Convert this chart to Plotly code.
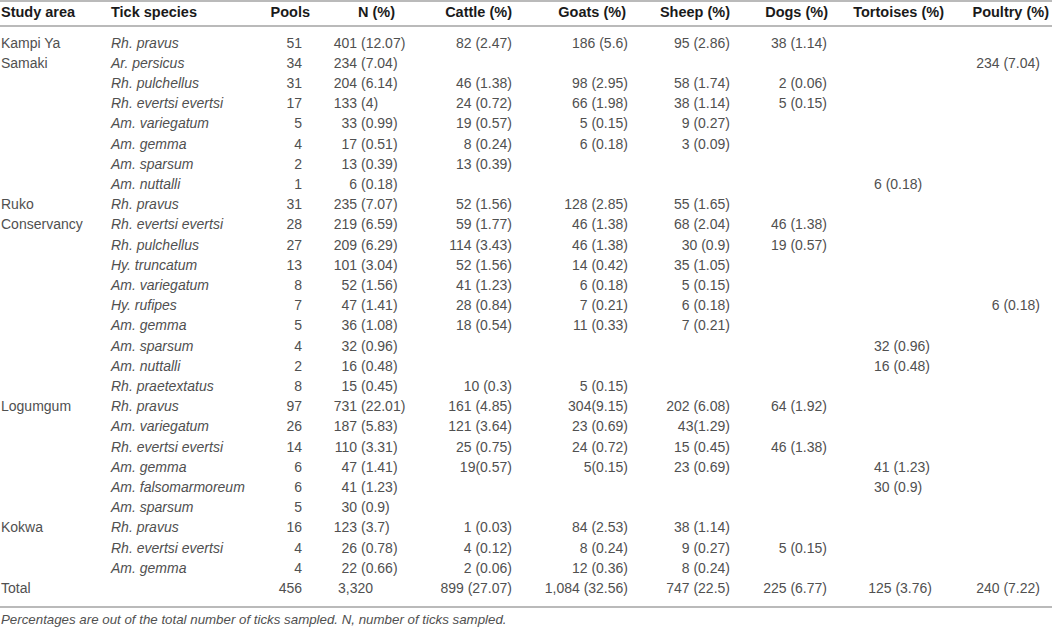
import plotly.graph_objects as go

# ---- table data -------------------------------------------------------
headers = ["Study area", "Tick species", "Pools", "N (%)", "Cattle (%)", "Goats (%)",
           "Sheep (%)", "Dogs (%)", "Tortoises (%)", "Poultry (%)"]

area_labels = ["Kampi Ya", "Samaki", "", "", "", "", "", "",
               "Ruko", "Conservancy", "", "", "", "", "", "", "", "",
               "Logumgum", "", "", "", "", "",
               "Kokwa", "", ""]

species = ["Rh. pravus", "Ar. persicus", "Rh. pulchellus", "Rh. evertsi evertsi",
           "Am. variegatum", "Am. gemma", "Am. sparsum", "Am. nuttalli",
           "Rh. pravus", "Rh. evertsi evertsi", "Rh. pulchellus", "Hy. truncatum",
           "Am. variegatum", "Hy. rufipes", "Am. gemma", "Am. sparsum", "Am. nuttalli",
           "Rh. praetextatus",
           "Rh. pravus", "Am. variegatum", "Rh. evertsi evertsi", "Am. gemma",
           "Am. falsomarmoreum", "Am. sparsum",
           "Rh. pravus", "Rh. evertsi evertsi", "Am. gemma"]

pools = ["51", "34", "31", "17", "5", "4", "2", "1",
         "31", "28", "27", "13", "8", "7", "5", "4", "2", "8",
         "97", "26", "14", "6", "6", "5",
         "16", "4", "4"]

# N (%) column: counts and their share, typeset aligned on the space between them
n_counts = ["401", "234", "204", "133", "33", "17", "13", "6",
            "235", "219", "209", "101", "52", "47", "36", "32", "16", "15",
            "731", "187", "110", "47", "41", "30",
            "123", "26", "22"]
n_shares = ["(12.07)", "(7.04)", "(6.14)", "(4)", "(0.99)", "(0.51)", "(0.39)", "(0.18)",
            "(7.07)", "(6.59)", "(6.29)", "(3.04)", "(1.56)", "(1.41)", "(1.08)", "(0.96)",
            "(0.48)", "(0.45)",
            "(22.01)", "(5.83)", "(3.31)", "(1.41)", "(1.23)", "(0.9)",
            "(3.7)", "(0.78)", "(0.66)"]

cattle = ["82 (2.47)", "", "46 (1.38)", "24 (0.72)", "19 (0.57)", "8 (0.24)", "13 (0.39)", "",
          "52 (1.56)", "59 (1.77)", "114 (3.43)", "52 (1.56)", "41 (1.23)", "28 (0.84)",
          "18 (0.54)", "", "", "10 (0.3)",
          "161 (4.85)", "121 (3.64)", "25 (0.75)", "19(0.57)", "", "",
          "1 (0.03)", "4 (0.12)", "2 (0.06)"]

goats = ["186 (5.6)", "", "98 (2.95)", "66 (1.98)", "5 (0.15)", "6 (0.18)", "", "",
         "128 (2.85)", "46 (1.38)", "46 (1.38)", "14 (0.42)", "6 (0.18)", "7 (0.21)",
         "11 (0.33)", "", "", "5 (0.15)",
         "304(9.15)", "23 (0.69)", "24 (0.72)", "5(0.15)", "", "",
         "84 (2.53)", "8 (0.24)", "12 (0.36)"]

sheep = ["95 (2.86)", "", "58 (1.74)", "38 (1.14)", "9 (0.27)", "3 (0.09)", "", "",
         "55 (1.65)", "68 (2.04)", "30 (0.9)", "35 (1.05)", "5 (0.15)", "6 (0.18)",
         "7 (0.21)", "", "", "",
         "202 (6.08)", "43(1.29)", "15 (0.45)", "23 (0.69)", "", "",
         "38 (1.14)", "9 (0.27)", "8 (0.24)"]

dogs = ["38 (1.14)", "", "2 (0.06)", "5 (0.15)", "", "", "", "",
        "", "46 (1.38)", "19 (0.57)", "", "", "", "", "", "", "",
        "64 (1.92)", "", "46 (1.38)", "", "", "",
        "", "5 (0.15)", ""]

tortoises = ["", "", "", "", "", "", "", "6 (0.18)",
             "", "", "", "", "", "", "", "32 (0.96)", "16 (0.48)", "",
             "", "", "", "41 (1.23)", "30 (0.9)", "",
             "", "", ""]

poultry = ["", "234 (7.04)", "", "", "", "", "", "",
           "", "", "", "", "", "6 (0.18)", "", "", "", "",
           "", "", "", "", "", "",
           "", "", ""]

# footer row
total_label = "Total"
totals = ["456", "3,320", "899 (27.07)", "1,084 (32.56)", "747 (22.5)", "225 (6.77)",
          "125 (3.76)", "240 (7.22)"]

footnote = "Percentages are out of the total number of ticks sampled. N, number of ticks sampled."

# ---- layout constants (pixels) ----------------------------------------
W, H = 1052, 629
ROW0, PITCH = 44, 20.2
HEADER_Y = 13
BODY = "#505050"
HEAD = "#1a1a1a"
LINE = "#a3a3a3"
FONT = "Liberation Sans"

# right-aligned value columns: (values, right edge x)
right_cols = [(pools, 302), (cattle, 512), (goats, 628), (sheep, 730), (dogs, 827),
              (poultry, 1040)]
N_SPLIT = 357        # N (%): counts end here, shares start just after
TORT_LEFT = 874      # tortoises column is set flush left
header_x = [1, 111, 310, 395, 512, 626, 730, 828, 944, 1049]
# footer cells: (x, alignment)
total_pos = [(302, "middle left"), (338, "middle right"), (512, "middle left"),
             (628, "middle left"), (730, "middle left"), (827, "middle left"),
             (932, "middle left"), (1040, "middle left")]

n = len(species)
rows_y = [ROW0 + i * PITCH for i in range(n)]
total_y = ROW0 + n * PITCH

fig = go.Figure()


def add_text(xs, ys, texts, pos, color=BODY, size=14, weight="normal", style="normal"):
    fig.add_trace(go.Scatter(
        x=xs, y=ys, text=texts, mode="text", textposition=pos,
        textfont=dict(family=FONT, size=size, color=color, weight=weight, style=style),
        hoverinfo="skip", showlegend=False, cliponaxis=False,
    ))


# headers
add_text(header_x[:2], [HEADER_Y] * 2, headers[:2], "middle right", HEAD, size=14.5, weight="bold")
add_text(header_x[2:], [HEADER_Y] * 8, headers[2:], "middle left", HEAD, size=14.5, weight="bold")

# body
add_text([1] * n, rows_y, area_labels, "middle right")
add_text([111] * n, rows_y, species, "middle right", style="italic")
add_text([N_SPLIT] * n, rows_y, n_counts, "middle left")
add_text([N_SPLIT + 4] * n, rows_y, n_shares, "middle right")
for col, x in right_cols:
    add_text([x] * n, rows_y, col, "middle left")
add_text([TORT_LEFT] * n, rows_y, tortoises, "middle right")

# footer row
add_text([1], [total_y], [total_label], "middle right")
for val, (x, pos) in zip(totals, total_pos):
    add_text([x], [total_y], [val], pos)

# footnote
add_text([1], [621], [footnote], "middle right", size=13.3, style="italic")

# rules
for y in (1, 26, 607):
    fig.add_shape(type="line", x0=0, x1=W, y0=y, y1=y, xref="x", yref="y",
                  line=dict(color=LINE, width=1.3))

fig.update_xaxes(range=[0, W], visible=False, fixedrange=True)
fig.update_yaxes(range=[H, 0], visible=False, fixedrange=True)
fig.update_layout(width=W, height=H, margin=dict(l=0, r=0, t=0, b=0),
                  paper_bgcolor="white", plot_bgcolor="white")

# drop the page's default body margin so the figure sits at the window corner
fig.write_html("out.html", config={"displayModeBar": False},
               post_script="document.body.style.margin = '0px';")
